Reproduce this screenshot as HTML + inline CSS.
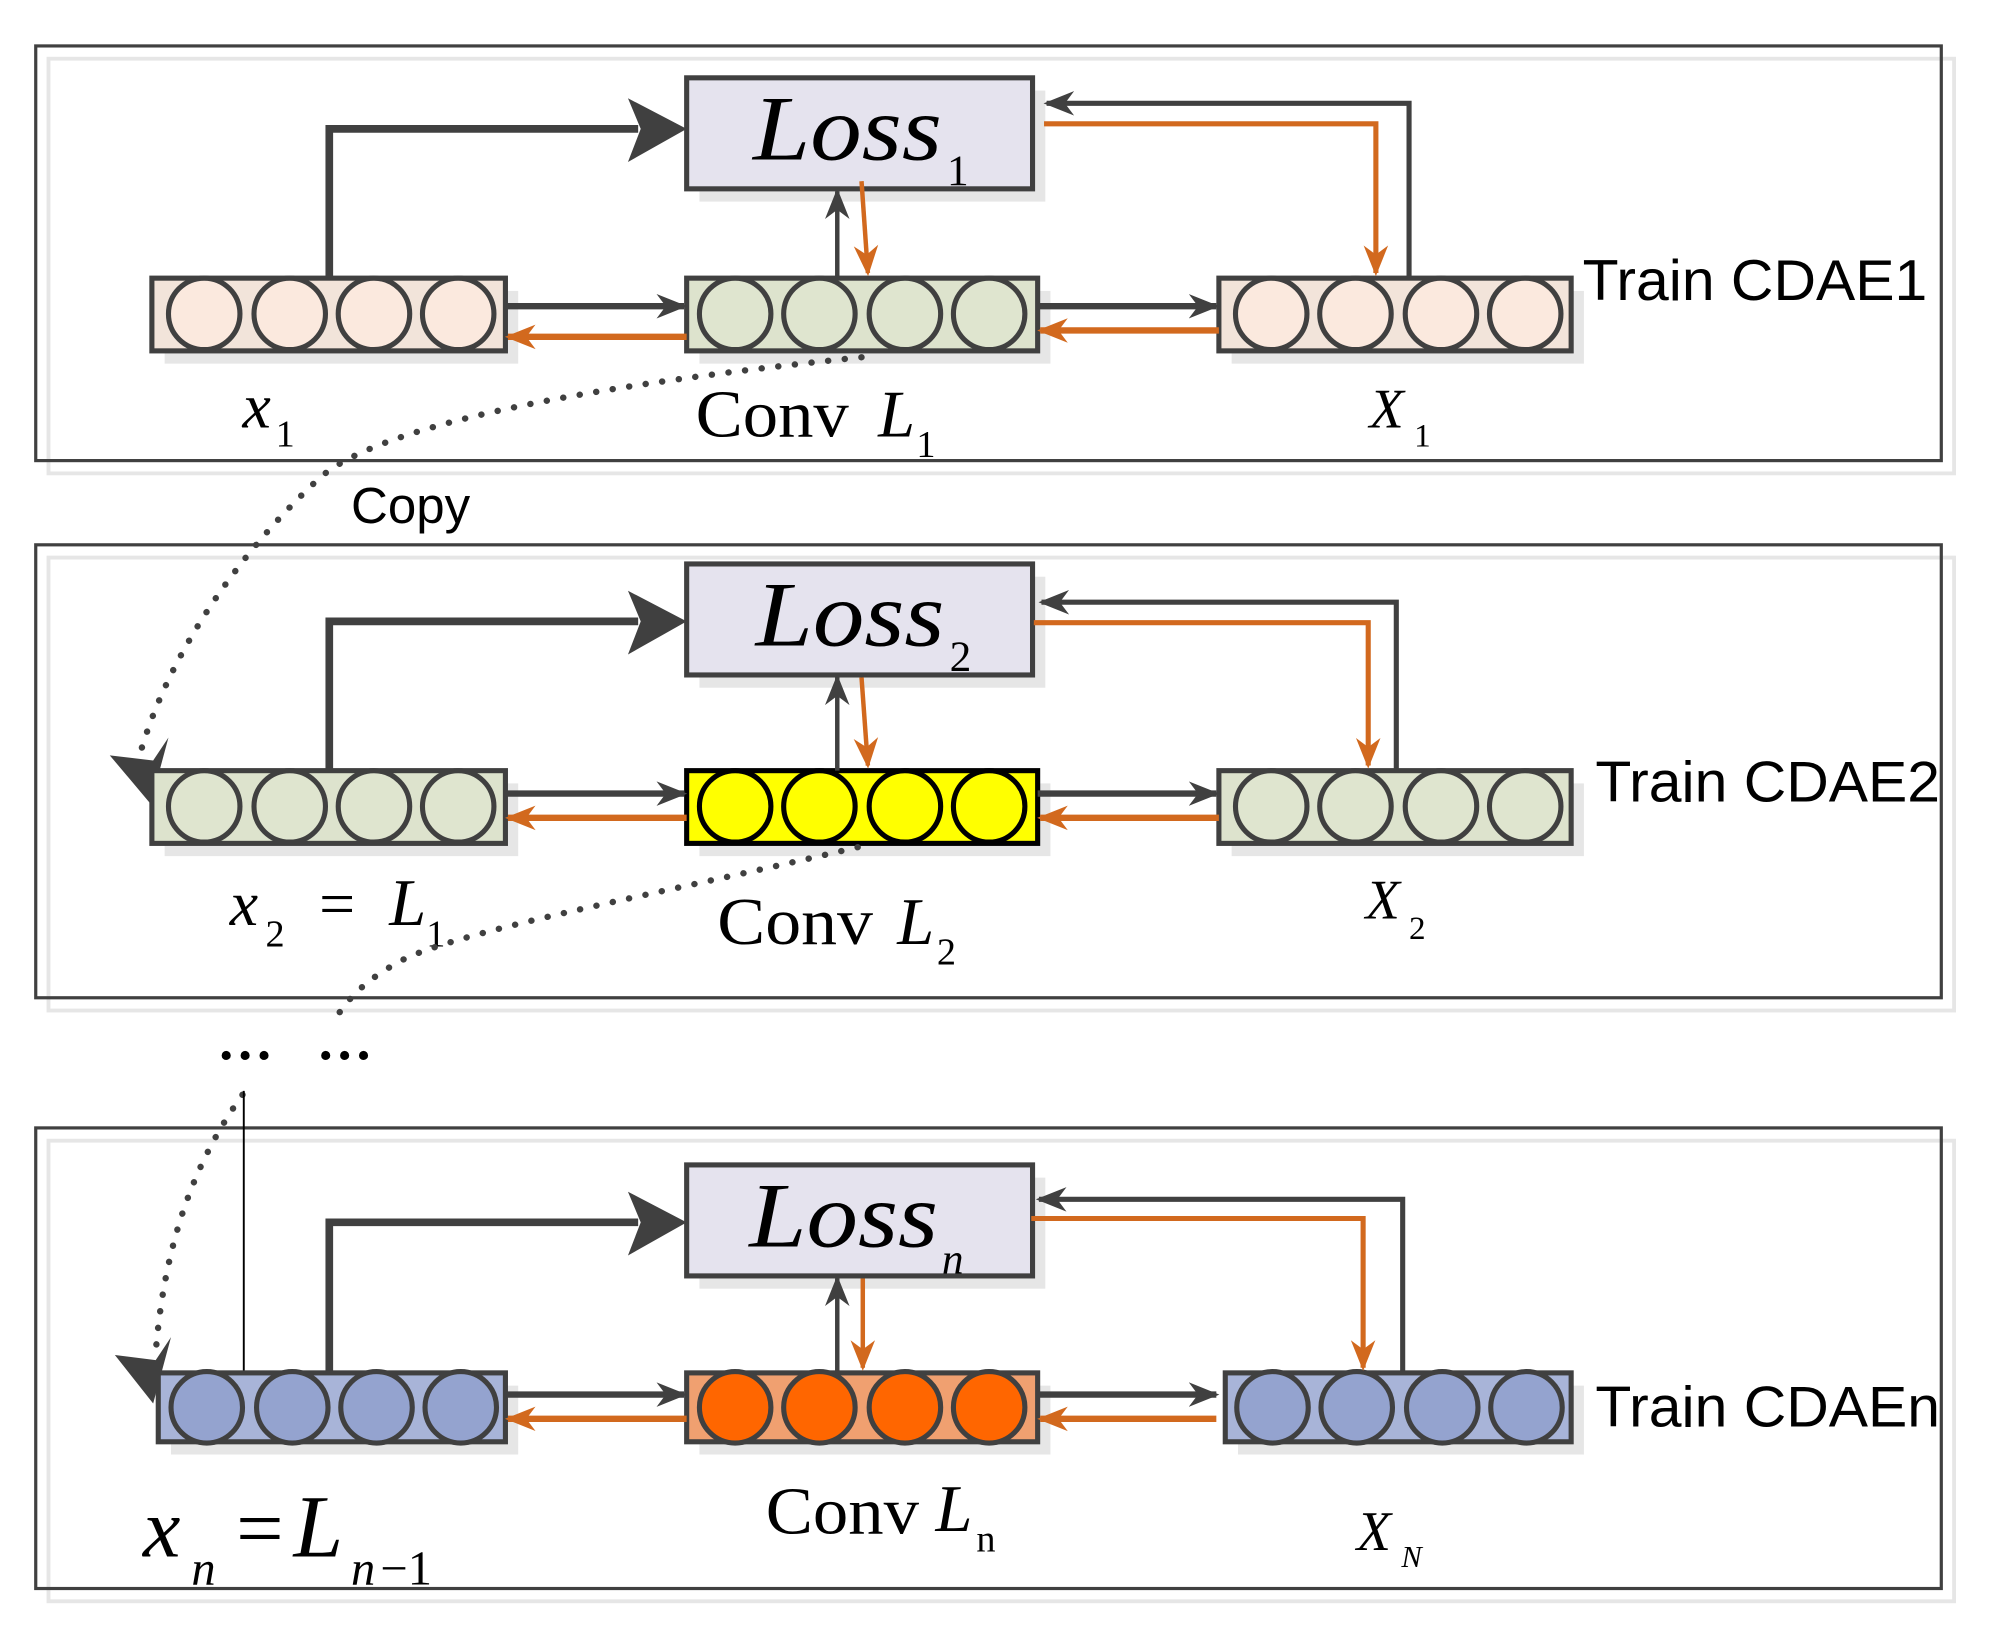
<!DOCTYPE html>
<html><head><meta charset="utf-8"><style>
html,body{margin:0;padding:0;background:#fff;}
svg{display:block;}
.serif{font-family:"Liberation Serif",serif;}
.sans{font-family:"Liberation Sans",sans-serif;}
</style></head><body>
<svg width="2000" height="1637" viewBox="0 0 1567 1283" preserveAspectRatio="none" xmlns="http://www.w3.org/2000/svg">
<defs>
<marker id="ad" viewBox="0 0 20 20" refX="18" refY="10" markerWidth="24" markerHeight="24" markerUnits="userSpaceOnUse" orient="auto"><path d="M0,2 L20,10 L0,18 L6,10 Z" fill="#404040"/></marker>
<marker id="ao" viewBox="0 0 20 20" refX="18" refY="10" markerWidth="24" markerHeight="24" markerUnits="userSpaceOnUse" orient="auto"><path d="M0,2 L20,10 L0,18 L6,10 Z" fill="#d2691e"/></marker>
</defs>

<rect x="38" y="46" width="1493" height="325" fill="none" stroke="#e6e6e6" stroke-width="3"/>
<rect x="28" y="36" width="1493" height="325" fill="none" stroke="#404040" stroke-width="2.5"/>
<rect x="38" y="437" width="1493" height="355" fill="none" stroke="#e6e6e6" stroke-width="3"/>
<rect x="28" y="427" width="1493" height="355" fill="none" stroke="#404040" stroke-width="2.5"/>
<rect x="38" y="894" width="1493" height="361" fill="none" stroke="#e6e6e6" stroke-width="3"/>
<rect x="28" y="884" width="1493" height="361" fill="none" stroke="#404040" stroke-width="2.5"/>

<!-- ===== Panel 1 ===== -->
<rect x="548" y="71" width="271" height="87" fill="#e6e6e6"/>
<rect x="538" y="61" width="271" height="87" fill="#e5e3ee" stroke="#404040" stroke-width="4"/>
<text x="590" y="125" class="serif" font-style="italic" font-size="72" textLength="148" lengthAdjust="spacingAndGlyphs">Loss</text>
<text x="742" y="145" class="serif" font-size="34">1</text>
<rect x="129" y="228" width="277" height="57" fill="#e6e6e6"/>
<rect x="119" y="218" width="277" height="57" fill="#f2e4da" stroke="#404040" stroke-width="4"/>
<g fill="#fbe9de" stroke="#404040" stroke-width="4"><circle cx="160" cy="246" r="28"/><circle cx="227" cy="246" r="28"/><circle cx="293" cy="246" r="28"/><circle cx="359" cy="246" r="28"/></g>
<rect x="548" y="228" width="275" height="57" fill="#e6e6e6"/>
<rect x="538" y="218" width="275" height="57" fill="#dde3cd" stroke="#404040" stroke-width="4"/>
<g fill="#dfe5cf" stroke="#404040" stroke-width="4"><circle cx="576" cy="246" r="28"/><circle cx="642" cy="246" r="28"/><circle cx="709" cy="246" r="28"/><circle cx="775" cy="246" r="28"/></g>
<rect x="965" y="228" width="276" height="57" fill="#e6e6e6"/>
<rect x="955" y="218" width="276" height="57" fill="#f2e4da" stroke="#404040" stroke-width="4"/>
<g fill="#fbe9de" stroke="#404040" stroke-width="4"><circle cx="996" cy="246" r="28"/><circle cx="1062" cy="246" r="28"/><circle cx="1129" cy="246" r="28"/><circle cx="1195" cy="246" r="28"/></g>
<polyline points="258,218 258,101 500,101" fill="none" stroke="#404040" stroke-width="6"/>
<path d="M492,77 L538,101 L492,127 L502,101 Z" fill="#404040"/>
<line x1="396" y1="240" x2="536" y2="240" stroke="#404040" stroke-width="5" marker-end="url(#ad)"/>
<line x1="538" y1="264" x2="398" y2="264" stroke="#d2691e" stroke-width="5" marker-end="url(#ao)"/>
<line x1="813" y1="240" x2="953" y2="240" stroke="#404040" stroke-width="5" marker-end="url(#ad)"/>
<line x1="955" y1="259" x2="815" y2="259" stroke="#d2691e" stroke-width="5" marker-end="url(#ao)"/>
<line x1="656" y1="218" x2="656" y2="150" stroke="#404040" stroke-width="3.5" marker-end="url(#ad)"/>
<line x1="675" y1="142" x2="680" y2="214" stroke="#d2691e" stroke-width="3.5" marker-end="url(#ao)"/>
<polyline points="1104,218 1104,81 820,81" fill="none" stroke="#404040" stroke-width="4" marker-end="url(#ad)"/>
<polyline points="818,97 1078,97 1078,214" fill="none" stroke="#d2691e" stroke-width="4" marker-end="url(#ao)"/>
<text x="190" y="335" class="serif" font-style="italic" font-size="50">x</text><text x="216" y="350" class="serif" font-size="30">1</text>
<text x="545" y="342" class="serif" font-size="52" textLength="120" lengthAdjust="spacingAndGlyphs">Conv</text>
<text x="688" y="342" class="serif" font-style="italic" font-size="52">L</text><text x="718" y="358" class="serif" font-size="30">1</text>
<text x="1073" y="335" class="serif" font-style="italic" font-size="44">X</text><text x="1108" y="350" class="serif" font-size="26">1</text>
<text x="1240" y="235" class="sans" font-size="45" textLength="270" lengthAdjust="spacingAndGlyphs">Train CDAE1</text>
<path d="M675,280 C480,300 300,330 250,375 C180,440 130,520 110,590" fill="none" stroke="#404040" stroke-width="5" stroke-dasharray="0.1,13" stroke-linecap="round"/>
<path d="M86,592 L120,596 L132,578 L118,630 Z" fill="#404040"/>
<text x="275" y="410" class="sans" font-size="40">Copy</text>

<!-- ===== Panel 2 ===== -->
<rect x="548" y="452" width="271" height="87" fill="#e6e6e6"/>
<rect x="538" y="442" width="271" height="87" fill="#e5e3ee" stroke="#404040" stroke-width="4"/>
<text x="592" y="506" class="serif" font-style="italic" font-size="72" textLength="148" lengthAdjust="spacingAndGlyphs">Loss</text>
<text x="744" y="526" class="serif" font-size="34">2</text>
<rect x="129" y="614" width="277" height="57" fill="#e6e6e6"/>
<rect x="119" y="604" width="277" height="57" fill="#dde3cd" stroke="#404040" stroke-width="4"/>
<g fill="#dfe5cf" stroke="#404040" stroke-width="4"><circle cx="160" cy="632" r="28"/><circle cx="227" cy="632" r="28"/><circle cx="293" cy="632" r="28"/><circle cx="359" cy="632" r="28"/></g>
<rect x="548" y="614" width="275" height="57" fill="#e6e6e6"/>
<rect x="538" y="604" width="275" height="57" fill="#ffff00" stroke="#000" stroke-width="4"/>
<g fill="#ffff00" stroke="#000" stroke-width="4"><circle cx="576" cy="632" r="28"/><circle cx="642" cy="632" r="28"/><circle cx="709" cy="632" r="28"/><circle cx="775" cy="632" r="28"/></g>
<rect x="965" y="614" width="276" height="57" fill="#e6e6e6"/>
<rect x="955" y="604" width="276" height="57" fill="#dde3cd" stroke="#404040" stroke-width="4"/>
<g fill="#dfe5cf" stroke="#404040" stroke-width="4"><circle cx="996" cy="632" r="28"/><circle cx="1062" cy="632" r="28"/><circle cx="1129" cy="632" r="28"/><circle cx="1195" cy="632" r="28"/></g>
<polyline points="258,604 258,487 500,487" fill="none" stroke="#404040" stroke-width="6"/>
<path d="M492,463 L538,487 L492,513 L502,487 Z" fill="#404040"/>
<line x1="396" y1="622" x2="536" y2="622" stroke="#404040" stroke-width="5" marker-end="url(#ad)"/>
<line x1="538" y1="641" x2="398" y2="641" stroke="#d2691e" stroke-width="5" marker-end="url(#ao)"/>
<line x1="813" y1="622" x2="953" y2="622" stroke="#404040" stroke-width="5" marker-end="url(#ad)"/>
<line x1="955" y1="641" x2="815" y2="641" stroke="#d2691e" stroke-width="5" marker-end="url(#ao)"/>
<line x1="656" y1="604" x2="656" y2="531" stroke="#404040" stroke-width="3.5" marker-end="url(#ad)"/>
<line x1="675" y1="531" x2="680" y2="600" stroke="#d2691e" stroke-width="3.5" marker-end="url(#ao)"/>
<polyline points="1094,604 1094,472 816,472" fill="none" stroke="#404040" stroke-width="4" marker-end="url(#ad)"/>
<polyline points="810,488 1072,488 1072,600" fill="none" stroke="#d2691e" stroke-width="4" marker-end="url(#ao)"/>
<text x="180" y="725" class="serif" font-style="italic" font-size="50">x</text><text x="208" y="742" class="serif" font-size="30">2</text>
<text x="250" y="725" class="serif" font-size="50">=</text>
<text x="305" y="725" class="serif" font-style="italic" font-size="52">L</text><text x="334" y="742" class="serif" font-size="30">1</text>
<text x="562" y="740" class="serif" font-size="52" textLength="122" lengthAdjust="spacingAndGlyphs">Conv</text>
<text x="703" y="740" class="serif" font-style="italic" font-size="52">L</text><text x="734" y="756" class="serif" font-size="30">2</text>
<text x="1070" y="720" class="serif" font-style="italic" font-size="44">X</text><text x="1104" y="736" class="serif" font-size="26">2</text>
<text x="1250" y="628" class="sans" font-size="45" textLength="270" lengthAdjust="spacingAndGlyphs">Train CDAE2</text>
<path d="M672,664 C520,700 380,725 320,750 C290,765 275,780 265,795" fill="none" stroke="#404040" stroke-width="5" stroke-dasharray="0.1,13" stroke-linecap="round"/>
<text x="170" y="830" class="serif" font-size="44" font-weight="bold">…</text>
<text x="248" y="830" class="serif" font-size="44" font-weight="bold">…</text>

<!-- ===== Panel 3 ===== -->
<path d="M190,858 C160,900 130,960 122,1060" fill="none" stroke="#404040" stroke-width="5" stroke-dasharray="0.1,13" stroke-linecap="round"/>
<path d="M90,1062 L122,1066 L134,1048 L120,1100 Z" fill="#404040"/>
<line x1="191" y1="855" x2="191" y2="1078" stroke="#000" stroke-width="1.5"/>
<rect x="548" y="923" width="271" height="87" fill="#e6e6e6"/>
<rect x="538" y="913" width="271" height="87" fill="#e5e3ee" stroke="#404040" stroke-width="4"/>
<text x="587" y="977" class="serif" font-style="italic" font-size="72" textLength="148" lengthAdjust="spacingAndGlyphs">Loss</text>
<text x="738" y="998" class="serif" font-style="italic" font-size="34">n</text>
<rect x="134" y="1086" width="272" height="54" fill="#e6e6e6"/>
<rect x="124" y="1076" width="272" height="54" fill="#a8b4d8" stroke="#404040" stroke-width="4"/>
<g fill="#94a3cf" stroke="#404040" stroke-width="4"><circle cx="162" cy="1103" r="28"/><circle cx="229" cy="1103" r="28"/><circle cx="295" cy="1103" r="28"/><circle cx="361" cy="1103" r="28"/></g>
<rect x="548" y="1086" width="275" height="54" fill="#e6e6e6"/>
<rect x="538" y="1076" width="275" height="54" fill="#f0a070" stroke="#404040" stroke-width="4"/>
<g fill="#ff6600" stroke="#404040" stroke-width="4"><circle cx="576" cy="1103" r="28"/><circle cx="642" cy="1103" r="28"/><circle cx="709" cy="1103" r="28"/><circle cx="775" cy="1103" r="28"/></g>
<rect x="970" y="1086" width="271" height="54" fill="#e6e6e6"/>
<rect x="960" y="1076" width="271" height="54" fill="#a8b4d8" stroke="#404040" stroke-width="4"/>
<g fill="#94a3cf" stroke="#404040" stroke-width="4"><circle cx="997" cy="1103" r="28"/><circle cx="1063" cy="1103" r="28"/><circle cx="1130" cy="1103" r="28"/><circle cx="1196" cy="1103" r="28"/></g>
<polyline points="258,1076 258,958 500,958" fill="none" stroke="#404040" stroke-width="6"/>
<path d="M492,934 L538,958 L492,984 L502,958 Z" fill="#404040"/>
<line x1="396" y1="1093" x2="536" y2="1093" stroke="#404040" stroke-width="5" marker-end="url(#ad)"/>
<line x1="538" y1="1112" x2="398" y2="1112" stroke="#d2691e" stroke-width="5" marker-end="url(#ao)"/>
<line x1="813" y1="1093" x2="953" y2="1093" stroke="#404040" stroke-width="5" marker-end="url(#ad)"/>
<line x1="953" y1="1112" x2="815" y2="1112" stroke="#d2691e" stroke-width="5" marker-end="url(#ao)"/>
<line x1="656" y1="1076" x2="656" y2="1002" stroke="#404040" stroke-width="3.5" marker-end="url(#ad)"/>
<line x1="676" y1="1002" x2="676" y2="1072" stroke="#d2691e" stroke-width="3.5" marker-end="url(#ao)"/>
<polyline points="1099,1076 1099,940 814,940" fill="none" stroke="#404040" stroke-width="4" marker-end="url(#ad)"/>
<polyline points="808,955 1068,955 1068,1072" fill="none" stroke="#d2691e" stroke-width="4" marker-end="url(#ao)"/>
<text x="112" y="1220" class="serif" font-style="italic" font-size="66">x</text><text x="150" y="1242" class="serif" font-style="italic" font-size="38">n</text>
<text x="185" y="1220" class="serif" font-size="66">=</text>
<text x="230" y="1220" class="serif" font-style="italic" font-size="70">L</text><text x="275" y="1242" class="serif" font-style="italic" font-size="38">n</text><text x="298" y="1242" class="serif" font-size="38">−1</text>
<text x="600" y="1202" class="serif" font-size="52" textLength="120" lengthAdjust="spacingAndGlyphs">Conv</text>
<text x="733" y="1200" class="serif" font-style="italic" font-size="52">L</text><text x="765" y="1216" class="serif" font-size="30">n</text>
<text x="1063" y="1215" class="serif" font-style="italic" font-size="44">X</text><text x="1098" y="1228" class="serif" font-style="italic" font-size="24">N</text>
<text x="1250" y="1118" class="sans" font-size="45" textLength="270" lengthAdjust="spacingAndGlyphs">Train CDAEn</text>
</svg>
</body></html>
